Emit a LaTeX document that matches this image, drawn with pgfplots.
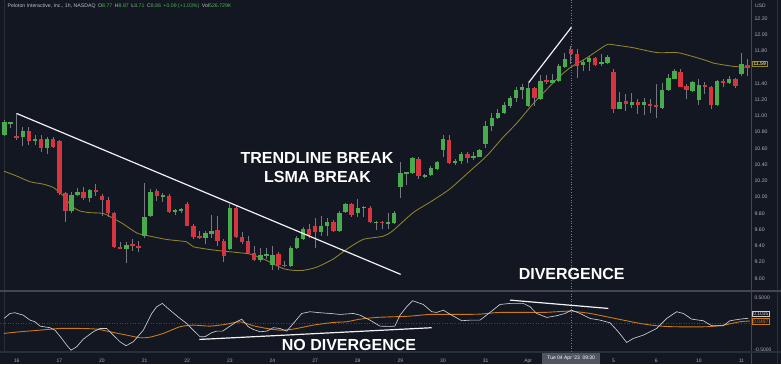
\documentclass[border=0pt]{standalone}
\usepackage{pgfplots}
\pgfplotsset{compat=1.18}
\usepackage{pgfplotstable}
\usepackage{fontspec}
\setmainfont{Liberation Sans}
\definecolor{bg}{RGB}{19,23,34}
\definecolor{upc}{RGB}{72,172,76}
\definecolor{dnc}{RGB}{214,52,62}
\definecolor{wick}{RGB}{118,121,132}
\definecolor{lsma}{RGB}{145,132,46}
\definecolor{lsmatxt}{RGB}{222,196,70}
\definecolor{indw}{RGB}{205,206,211}
\definecolor{indo}{RGB}{204,122,22}
\definecolor{tickc}{RGB}{170,173,182}
\definecolor{panel}{RGB}{67,70,81}
\definecolor{panel2}{RGB}{42,46,57}
\definecolor{hg}{RGB}{76,175,80}
\definecolor{boxg}{RGB}{80,84,96}

\pgfplotstableread{
i o h l c
-2 10.76 10.95 10.75 10.92
-1 10.90 10.93 10.85 10.92
1 10.74 10.86 10.63 10.81
3 10.69 10.76 10.64 10.72
5 10.60 10.74 10.53 10.72
9 9.83 10.06 9.80 10.03
10 10.03 10.11 10.01 10.06
12 9.99 10.10 9.94 10.09
18 9.36 9.45 9.19 9.41
21 9.52 10.17 9.50 9.76
22 9.77 10.10 9.75 10.07
24 10.01 10.05 9.94 10.02
26 9.83 9.85 9.78 9.84
27 9.83 9.87 9.81 9.85
31 9.50 9.59 9.43 9.56
32 9.55 9.78 9.50 9.59
35 9.36 9.91 9.35 9.87
40 9.23 9.38 9.20 9.29
41 9.28 9.38 9.24 9.30
42 9.16 9.40 9.11 9.29
45 9.15 9.40 9.14 9.38
46 9.37 9.52 9.36 9.50
47 9.49 9.63 9.47 9.61
50 9.57 9.77 9.52 9.65
51 9.64 9.74 9.52 9.69
53 9.59 9.83 9.57 9.81
54 9.82 9.93 9.81 9.92
56 9.80 9.98 9.76 9.87
57 9.87 9.89 9.75 9.88
59 9.68 9.71 9.59 9.70
61 9.68 9.80 9.61 9.69
62 9.68 9.83 9.67 9.80
63 10.12 10.43 9.99 10.30
64 10.29 10.31 10.15 10.30
65 10.30 10.49 10.28 10.48
67 10.26 10.28 10.23 10.27
68 10.27 10.39 10.26 10.36
69 10.35 10.45 10.33 10.43
70 10.58 10.76 10.50 10.71
72 10.42 10.47 10.40 10.44
73 10.44 10.56 10.41 10.53
75 10.48 10.56 10.46 10.51
76 10.50 10.59 10.49 10.58
77 10.66 10.94 10.60 10.88
78 10.87 11.04 10.82 10.98
79 10.97 11.09 10.96 11.04
80 11.03 11.17 11.02 11.13
81 11.12 11.25 11.10 11.22
82 11.22 11.35 11.17 11.32
83 11.32 11.39 11.21 11.36
84 11.12 11.41 11.11 11.34
86 11.21 11.50 11.20 11.43
88 11.41 11.52 11.39 11.44
89 11.43 11.64 11.42 11.62
90 11.60 11.78 11.59 11.70
93 11.63 11.69 11.55 11.66
94 11.66 11.74 11.55 11.71
96 11.64 11.76 11.62 11.66
97 11.65 11.75 11.64 11.72
99 11.09 11.29 11.08 11.17
101 11.14 11.28 11.10 11.17
103 11.14 11.22 11.01 11.17
106 11.10 11.40 11.09 11.32
107 11.32 11.52 11.31 11.47
108 11.46 11.58 11.45 11.55
111 11.31 11.43 11.30 11.42
112 11.20 11.46 11.14 11.38
115 11.13 11.44 11.12 11.43
117 11.41 11.49 11.39 11.46
119 11.52 11.78 11.49 11.64
}\upc

\pgfplotstableread{
i o h l c
0 10.75 11.03 10.70 10.74
2 10.81 10.86 10.64 10.69
4 10.72 10.76 10.55 10.60
6 10.71 10.74 10.61 10.62
7 10.69 10.70 10.03 10.05
8 10.05 10.06 9.69 9.83
11 10.06 10.13 9.97 9.99
13 10.09 10.16 10.01 10.06
14 10.02 10.04 9.77 9.97
15 9.96 10.00 9.76 9.81
16 9.81 9.82 9.37 9.39
17 9.39 9.45 9.36 9.37
19 9.42 9.48 9.34 9.40
20 9.39 9.46 9.33 9.38
23 10.07 10.10 9.95 10.01
25 10.02 10.04 9.80 9.82
28 9.91 9.94 9.64 9.65
29 9.65 9.67 9.48 9.51
30 9.52 9.59 9.48 9.50
33 9.59 9.77 9.40 9.46
34 9.46 9.48 9.20 9.27
36 9.87 9.89 9.50 9.51
37 9.51 9.57 9.42 9.45
38 9.46 9.52 9.30 9.31
39 9.31 9.40 9.21 9.23
43 9.30 9.32 9.11 9.16
44 9.17 9.22 9.14 9.15
48 9.61 9.67 9.50 9.54
49 9.64 9.74 9.37 9.57
52 9.69 9.72 9.57 9.59
55 9.91 9.93 9.76 9.78
58 9.87 9.89 9.68 9.69
60 9.70 9.71 9.61 9.68
66 10.47 10.49 10.22 10.26
71 10.70 10.76 10.41 10.42
74 10.53 10.56 10.42 10.48
85 11.34 11.36 11.12 11.22
87 11.44 11.50 11.39 11.42
91 11.82 11.86 11.64 11.76
92 11.76 11.82 11.47 11.62
95 11.71 11.73 11.62 11.63
98 11.54 11.58 11.03 11.09
100 11.18 11.27 11.06 11.15
102 11.17 11.21 11.02 11.14
104 11.15 11.21 11.04 11.13
105 11.13 11.39 10.97 11.11
109 11.54 11.58 11.35 11.36
110 11.37 11.39 11.21 11.32
113 11.38 11.42 11.27 11.35
114 11.35 11.37 11.09 11.14
116 11.43 11.46 11.36 11.40
118 11.45 11.47 11.34 11.37
120 11.63 11.70 11.49 11.59
}\dnc

\pgfplotsset{
  candle/.style={draw=none, fill=none, mark=none, forget plot,
    error bars/.cd, y dir=both, y explicit, error mark=none,
    error bar style={draw=#1, line width=4.4pt}},
  wickstyle/.style={draw=none, fill=none, mark=none, forget plot,
    error bars/.cd, y dir=both, y explicit, error mark=none,
    error bar style={draw=wick, line width=0.8pt}},
}

\begin{document}
\begin{tikzpicture}[x=1pt,y=1pt]
\fill[bg] (0,0) rectangle (781,364);
\useasboundingbox (0,0) rectangle (781,364);
% frame lines
\draw[panel2, line width=0.8pt] (4.7,12) -- (4.7,364);
\draw[panel, line width=0.9pt] (751.7,0) -- (751.7,364);
\draw[panel2, line width=0.8pt] (777,0) -- (777,364);
\fill[panel] (0,72.4) rectangle (781,74.3);
\fill[panel2] (0,11.4) rectangle (781,12.7);
\draw[wick, dotted, line width=0.6pt] (571,12.7) -- (571,364);

% price pane
\begin{axis}[
  at={(0,86)}, anchor=south west, scale only axis,
  width=752pt, height=290pt,
  xmin=-2.742, xmax=120.74, ymin=8.807, ymax=12.376,
  axis line style={draw=none},
  xtick=\empty,
  ytick={9,9.2,9.4,9.6,9.8,10,10.2,10.4,10.6,10.8,11,11.2,11.4,11.8,12,12.2},
  yticklabels={9.00,9.20,9.40,9.60,9.80,10.00,10.20,10.40,10.60,10.80,11.00,11.20,11.40,11.80,12.00,12.20},
  yticklabel pos=right,
  major tick length=0pt,
  yticklabel style={font=\fontsize{5.2}{6}\selectfont, text=tickc, anchor=west, xshift=-1pt},
  clip=true,
]
% LSMA
\addplot[lsma, line width=0.85pt, smooth, tension=0.4] coordinates {
(-2.1,10.32) (0,10.26) (2.2,10.19) (4.4,10.16) (6,10.12) (7,10.06) (7.9,10.00) (9,9.89) (10.4,9.83) (12,9.81) (14.2,9.80) (15.6,9.75) (17.5,9.67) (19.7,9.56) (21.3,9.53) (24.6,9.48) (27.9,9.45) (29,9.39) (32.3,9.35) (36.1,9.32) (38.3,9.30) (40.5,9.24) (42.1,9.18) (43.8,9.12) (45.4,9.10) (47.1,9.10) (49.3,9.14) (52,9.24) (54.2,9.36) (56.9,9.48) (60.2,9.52) (61.8,9.59) (65.1,9.81) (67.9,9.94) (71.1,10.10) (74.4,10.32) (77.2,10.51) (79.9,10.74) (82.1,10.91) (84.8,11.15) (87.6,11.37) (89.2,11.49) (91,11.60) (93.3,11.70) (95.3,11.80) (97,11.88) (98.5,11.87) (101.2,11.84) (105.1,11.78) (108.4,11.78) (110.6,11.74) (113.3,11.68) (114.4,11.65) (117.7,11.61) (120.4,11.595)};
% wicks
\addplot[wickstyle]
  table[x=i, y expr={(\thisrow{h}+\thisrow{l})/2}, y error expr={(\thisrow{h}-\thisrow{l})/2}] {\upc};
\addplot[wickstyle]
  table[x=i, y expr={(\thisrow{h}+\thisrow{l})/2}, y error expr={(\thisrow{h}-\thisrow{l})/2}] {\dnc};
% bodies
\addplot[candle=upc]
  table[x=i, y expr={(\thisrow{o}+\thisrow{c})/2}, y error expr={max(abs(\thisrow{c}-\thisrow{o})/2,0.009)}] {\upc};
\addplot[candle=dnc]
  table[x=i, y expr={(\thisrow{o}+\thisrow{c})/2}, y error expr={max(abs(\thisrow{c}-\thisrow{o})/2,0.009)}] {\dnc};
% annotation lines
\addplot[white!90!gray, line width=1.2pt] coordinates {(0,11.03) (63.05,9.05)};
\addplot[white!90!gray, line width=1.2pt] coordinates {(84.07,11.41) (91.07,12.09)};
\end{axis}

% indicator pane
\begin{axis}[
  at={(0,18.5)}, anchor=south west, scale only axis,
  width=752pt, height=59pt,
  xmin=-2.742, xmax=120.74, ymin=-0.5967, ymax=0.5445,
  axis line style={draw=none},
  xtick={0,7,14,21,28,35,42,49,56,63,70,77,84,98,105,112,119},
  xticklabels={16,17,20,21,22,23,24,27,28,29,30,31,Apr,5,6,10,11},
  ytick={-0.5,0.5},
  yticklabels={-0.5000,0.5000},
  yticklabel pos=right,
  major tick length=0pt,
  yticklabel style={font=\fontsize{5}{6}\selectfont, text=tickc, anchor=west, xshift=-1pt},
  xticklabel style={font=\fontsize{5}{6}\selectfont, text=tickc, anchor=center, yshift=-6.8pt},
  clip=true,
]
\addplot[panel, dotted, line width=0.6pt] coordinates {(-2.742,0) (120.74,0)};
\addplot[indo, line width=0.9pt, smooth, tension=0.4] coordinates {
(-2.09,-0.19) (0.54,-0.158) (3.82,-0.127) (7.11,-0.094) (10.39,-0.094) (13.14,-0.107) (15.32,-0.158) (18.06,-0.223) (20.25,-0.274) (21.89,-0.262) (24.07,-0.19) (26.81,-0.061) (29.0,-0.030) (31.74,-0.049) (34.48,-0.011) (36.67,0.036) (38.85,-0.042) (41.05,-0.094) (43.23,-0.127) (45.42,-0.107) (48.7,-0.030) (52.0,0.022) (54.19,0.036) (56.37,0.086) (59.11,0.119) (61.4,0.13) (64.58,0.144) (67.86,0.177) (72.25,0.177) (76.08,0.183) (79.36,0.216) (86.47,0.216) (90.85,0.241) (94.14,0.196) (96.88,0.132) (99.6,0.067) (102.35,0.003) (105.09,-0.042) (107.82,-0.061) (113.3,-0.061) (116.03,-0.030) (118.77,0.036) (120.4,0.0497)};
\addplot[indw, line width=0.65pt] coordinates {
(-2.09,0.10) (-1.10,0.196) (-0.28,0.21) (1.08,0.163) (2.18,0.067) (3.0,0.036) (3.82,-0.049) (5.47,-0.080) (6.29,-0.127) (7.39,-0.287) (8.21,-0.417) (8.92,-0.514) (9.85,-0.448) (10.94,-0.30) (12.58,-0.158) (13.68,-0.094) (14.78,-0.094) (15.86,-0.223) (16.96,-0.351) (17.95,-0.428) (19.15,-0.351) (20.79,-0.127) (22.17,0.196) (22.99,0.326) (23.91,0.39) (25.17,0.26) (26.81,0.10) (27.91,0.003) (29.0,-0.127) (30.1,-0.254) (30.92,-0.254) (32.02,-0.177) (32.84,-0.146) (33.83,-0.146) (35.02,-0.049) (36.12,0.036) (36.95,0.086) (38.03,-0.061) (38.85,-0.113) (39.95,-0.158) (41.05,-0.146) (42.13,-0.080) (43.23,-0.094) (44.33,-0.146) (45.42,0.003) (46.8,0.196) (48.16,0.229) (49.8,0.21) (51.45,0.196) (53.09,0.177) (55.27,0.196) (56.37,0.163) (58.0,0.067) (59.65,-0.049) (61.3,-0.055) (62.1,-0.049) (62.94,0.163) (64.04,0.326) (65.02,0.442) (66.77,0.37) (68.15,0.229) (68.97,0.216) (70.05,0.26) (71.43,0.163) (73.07,0.055) (74.43,0.067) (76.08,0.067) (77.72,0.216) (79.36,0.37) (81.0,0.39) (83.19,0.39) (84.29,0.326) (85.39,0.196) (87.03,0.119) (88.67,0.152) (90.03,0.196) (91.13,0.26) (92.5,0.196) (94.14,0.10) (95.78,0.067) (97.42,0.016) (98.78,-0.158) (100.16,-0.365) (101.25,-0.287) (102.89,-0.223) (105.09,-0.094) (106.73,0.10) (108.37,0.229) (109.46,0.196) (110.84,0.086) (112.74,0.055) (114.12,-0.042) (116.03,-0.042) (117.13,0.055) (118.77,0.086) (120.13,0.1035)};
\addplot[white!90!gray, line width=1.2pt] coordinates {(29.98,-0.307) (68.14,-0.080)};
\addplot[white!90!gray, line width=1.2pt] coordinates {(81.0,0.454) (97.14,0.293)};
\end{axis}

% header
\node[anchor=west, inner sep=0pt, font=\fontsize{5.2}{6}\selectfont, text=tickc!80!white] at (7.5,358.3)
 {Peloton Interactive, Inc., 1h, NASDAQ\enspace O\textcolor{hg}{8.77}\enspace H\textcolor{hg}{8.87}\enspace L\textcolor{hg}{8.71}\enspace C\textcolor{hg}{8.86}\enspace \textcolor{hg}{+0.09 (+1.03\%)}\enspace Vol\textcolor{hg}{526.729K}};
\node[anchor=west, inner sep=0pt, font=\fontsize{5}{6}\selectfont, text=tickc] at (755,358.7) {USD};
% price label
\node[anchor=west, draw=lsma, fill=bg, text=lsmatxt, inner sep=0.9pt, line width=0.7pt,
  font=\fontsize{5.2}{6}\selectfont\bfseries] at (752,300.1) {11.59};
% indicator labels
\node[anchor=west, draw=indw, fill=bg, text=indw, inner sep=0.9pt, line width=0.5pt,
  font=\fontsize{5}{6}\selectfont] at (752,50.3) {0.1035};
\node[anchor=west, draw=indo, fill=bg, text=indo, inner sep=0.9pt, line width=0.5pt,
  font=\fontsize{5}{6}\selectfont] at (752,42.7) {0.0497};
% crosshair date box
\node[fill=boxg, text=white, inner sep=0pt, minimum width=57.7pt, minimum height=11.3pt,
  font=\fontsize{5}{6}\selectfont] at (571.2,5.65) {Tue 04 Apr '23\enspace 09:30};
% overlay texts
\node[text=white, font=\fontsize{16}{18}\selectfont\bfseries] at (317,206.5) {TRENDLINE BREAK};
\node[text=white, font=\fontsize{16}{18}\selectfont\bfseries] at (317.5,187.3) {LSMA BREAK};
\node[text=white, font=\fontsize{16}{18}\selectfont\bfseries] at (571.7,90.2) {DIVERGENCE};
\node[text=white, font=\fontsize{16}{18}\selectfont\bfseries] at (349,19.5) {NO DIVERGENCE};
\end{tikzpicture}
\end{document}
